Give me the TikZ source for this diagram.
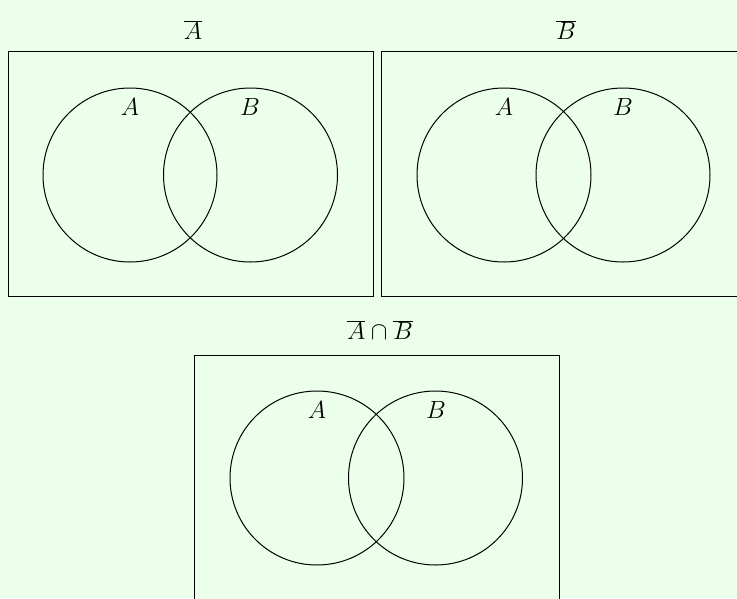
\documentclass[tikz,border=0pt]{standalone}
\usepackage{tikz}
\definecolor{bgg}{RGB}{235,255,235}
\begin{document}
\begin{tikzpicture}[x=1pt,y=-1pt,
  box/.style={draw=black,line width=1pt,fill=bgg},
  setc/.style={draw=black,line width=1pt},
  lab/.style={font=\fontsize{24}{28}\selectfont,inner sep=0pt},
  ttl/.style={font=\fontsize{24}{28}\selectfont,inner sep=0pt}]
\useasboundingbox (0,0) rectangle (737,598);
\fill[bgg] (0,0) rectangle (737,598);
\clip (0,0) rectangle (737,598);
% top-left
\draw[box] (8,51) rectangle (373,296);
\node[ttl] (t1) at (193,30) {$\overline{A}$};
\draw[setc] (130,175) circle (87);
\draw[setc] (250.5,175) circle (87);
\node[lab] (a1) at (130,107) {$A$};
\node[lab] (b1) at (250,107) {$B$};
% top-right
\draw[box] (381,51) rectangle (746,296);
\node[ttl] (t2) at (566,30) {$\overline{B}$};
\draw[setc] (504,175) circle (87);
\draw[setc] (623,175) circle (87);
\node[lab] (a2) at (504,107) {$A$};
\node[lab] (b2) at (623,107) {$B$};
% bottom
\draw[box] (194,355) rectangle (559,600);
\node[ttl] (t3) at (380,330) {$\overline{A}\cap\overline{B}$};
\draw[setc] (317,478) circle (87);
\draw[setc] (435.5,478) circle (87);
\node[lab] (a3) at (317,410) {$A$};
\node[lab] (b3) at (436,410) {$B$};
\end{tikzpicture}
\end{document}
